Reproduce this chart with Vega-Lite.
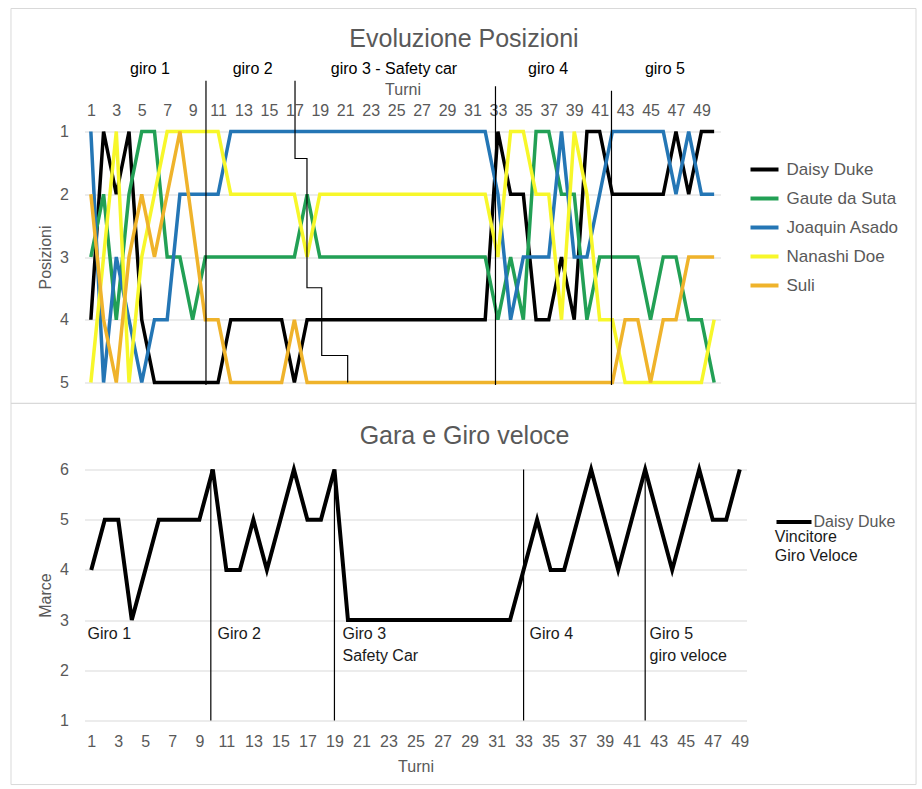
{
  "$schema": "https://vega.github.io/schema/vega-lite/v6.json",
  "autosize": {"type": "pad"},
  "padding": {"left": 9.5, "top": 7.5, "right": 5, "bottom": 4},
  "background": "white",
  "config": {
    "font": "Liberation Sans",
    "view": {"stroke": null},
    "axis": {"domain": false, "ticks": false, "gridColor": "#d9d9d9", "gridWidth": 1, "labelColor": "#595959", "titleColor": "#595959", "labelFontSize": 16, "titleFontSize": 16, "titleFontWeight": "normal", "labelFlush": false, "labelOverlap": false},
    "legend": {"labelFontSize": 17, "labelColor": "#595959", "padding": 0, "labelOffset": 6, "symbolStrokeWidth": 4, "title": null}
  },
  "datasets": {
    "pos": [
      {"x":1,"Daisy Duke":4,"Gaute da Suta":3,"Joaquin Asado":1,"Nanashi Doe":5,"Suli":2},
      {"x":2,"Daisy Duke":1,"Gaute da Suta":2,"Joaquin Asado":5,"Nanashi Doe":3,"Suli":4},
      {"x":3,"Daisy Duke":2,"Gaute da Suta":4,"Joaquin Asado":3,"Nanashi Doe":1,"Suli":5},
      {"x":4,"Daisy Duke":1,"Gaute da Suta":2,"Joaquin Asado":4,"Nanashi Doe":5,"Suli":3},
      {"x":5,"Daisy Duke":4,"Gaute da Suta":1,"Joaquin Asado":5,"Nanashi Doe":3,"Suli":2},
      {"x":6,"Daisy Duke":5,"Gaute da Suta":1,"Joaquin Asado":4,"Nanashi Doe":2,"Suli":3},
      {"x":7,"Daisy Duke":5,"Gaute da Suta":3,"Joaquin Asado":4,"Nanashi Doe":1,"Suli":2},
      {"x":8,"Daisy Duke":5,"Gaute da Suta":3,"Joaquin Asado":2,"Nanashi Doe":1,"Suli":1},
      {"x":9,"Daisy Duke":5,"Gaute da Suta":4,"Joaquin Asado":2,"Nanashi Doe":1,"Suli":2.5},
      {"x":10,"Daisy Duke":5,"Gaute da Suta":3,"Joaquin Asado":2,"Nanashi Doe":1,"Suli":4},
      {"x":11,"Daisy Duke":5,"Gaute da Suta":3,"Joaquin Asado":2,"Nanashi Doe":1,"Suli":4},
      {"x":12,"Daisy Duke":4,"Gaute da Suta":3,"Joaquin Asado":1,"Nanashi Doe":2,"Suli":5},
      {"x":13,"Daisy Duke":4,"Gaute da Suta":3,"Joaquin Asado":1,"Nanashi Doe":2,"Suli":5},
      {"x":14,"Daisy Duke":4,"Gaute da Suta":3,"Joaquin Asado":1,"Nanashi Doe":2,"Suli":5},
      {"x":15,"Daisy Duke":4,"Gaute da Suta":3,"Joaquin Asado":1,"Nanashi Doe":2,"Suli":5},
      {"x":16,"Daisy Duke":4,"Gaute da Suta":3,"Joaquin Asado":1,"Nanashi Doe":2,"Suli":5},
      {"x":17,"Daisy Duke":5,"Gaute da Suta":3,"Joaquin Asado":1,"Nanashi Doe":2,"Suli":4},
      {"x":18,"Daisy Duke":4,"Gaute da Suta":2,"Joaquin Asado":1,"Nanashi Doe":3,"Suli":5},
      {"x":19,"Daisy Duke":4,"Gaute da Suta":3,"Joaquin Asado":1,"Nanashi Doe":2,"Suli":5},
      {"x":20,"Daisy Duke":4,"Gaute da Suta":3,"Joaquin Asado":1,"Nanashi Doe":2,"Suli":5},
      {"x":21,"Daisy Duke":4,"Gaute da Suta":3,"Joaquin Asado":1,"Nanashi Doe":2,"Suli":5},
      {"x":22,"Daisy Duke":4,"Gaute da Suta":3,"Joaquin Asado":1,"Nanashi Doe":2,"Suli":5},
      {"x":23,"Daisy Duke":4,"Gaute da Suta":3,"Joaquin Asado":1,"Nanashi Doe":2,"Suli":5},
      {"x":24,"Daisy Duke":4,"Gaute da Suta":3,"Joaquin Asado":1,"Nanashi Doe":2,"Suli":5},
      {"x":25,"Daisy Duke":4,"Gaute da Suta":3,"Joaquin Asado":1,"Nanashi Doe":2,"Suli":5},
      {"x":26,"Daisy Duke":4,"Gaute da Suta":3,"Joaquin Asado":1,"Nanashi Doe":2,"Suli":5},
      {"x":27,"Daisy Duke":4,"Gaute da Suta":3,"Joaquin Asado":1,"Nanashi Doe":2,"Suli":5},
      {"x":28,"Daisy Duke":4,"Gaute da Suta":3,"Joaquin Asado":1,"Nanashi Doe":2,"Suli":5},
      {"x":29,"Daisy Duke":4,"Gaute da Suta":3,"Joaquin Asado":1,"Nanashi Doe":2,"Suli":5},
      {"x":30,"Daisy Duke":4,"Gaute da Suta":3,"Joaquin Asado":1,"Nanashi Doe":2,"Suli":5},
      {"x":31,"Daisy Duke":4,"Gaute da Suta":3,"Joaquin Asado":1,"Nanashi Doe":2,"Suli":5},
      {"x":32,"Daisy Duke":4,"Gaute da Suta":3,"Joaquin Asado":1,"Nanashi Doe":2,"Suli":5},
      {"x":33,"Daisy Duke":1,"Gaute da Suta":4,"Joaquin Asado":2,"Nanashi Doe":3,"Suli":5},
      {"x":34,"Daisy Duke":2,"Gaute da Suta":3,"Joaquin Asado":4,"Nanashi Doe":1,"Suli":5},
      {"x":35,"Daisy Duke":2,"Gaute da Suta":4,"Joaquin Asado":3,"Nanashi Doe":1,"Suli":5},
      {"x":36,"Daisy Duke":4,"Gaute da Suta":1,"Joaquin Asado":3,"Nanashi Doe":2,"Suli":5},
      {"x":37,"Daisy Duke":4,"Gaute da Suta":1,"Joaquin Asado":3,"Nanashi Doe":2,"Suli":5},
      {"x":38,"Daisy Duke":3,"Gaute da Suta":2,"Joaquin Asado":1,"Nanashi Doe":4,"Suli":5},
      {"x":39,"Daisy Duke":4,"Gaute da Suta":2,"Joaquin Asado":3,"Nanashi Doe":1,"Suli":5},
      {"x":40,"Daisy Duke":1,"Gaute da Suta":4,"Joaquin Asado":3,"Nanashi Doe":2,"Suli":5},
      {"x":41,"Daisy Duke":1,"Gaute da Suta":3,"Joaquin Asado":2,"Nanashi Doe":4,"Suli":5},
      {"x":42,"Daisy Duke":2,"Gaute da Suta":3,"Joaquin Asado":1,"Nanashi Doe":4,"Suli":5},
      {"x":43,"Daisy Duke":2,"Gaute da Suta":3,"Joaquin Asado":1,"Nanashi Doe":5,"Suli":4},
      {"x":44,"Daisy Duke":2,"Gaute da Suta":3,"Joaquin Asado":1,"Nanashi Doe":5,"Suli":4},
      {"x":45,"Daisy Duke":2,"Gaute da Suta":4,"Joaquin Asado":1,"Nanashi Doe":5,"Suli":5},
      {"x":46,"Daisy Duke":2,"Gaute da Suta":3,"Joaquin Asado":1,"Nanashi Doe":5,"Suli":4},
      {"x":47,"Daisy Duke":1,"Gaute da Suta":3,"Joaquin Asado":2,"Nanashi Doe":5,"Suli":4},
      {"x":48,"Daisy Duke":2,"Gaute da Suta":4,"Joaquin Asado":1,"Nanashi Doe":5,"Suli":3},
      {"x":49,"Daisy Duke":1,"Gaute da Suta":4,"Joaquin Asado":2,"Nanashi Doe":5,"Suli":3},
      {"x":50,"Daisy Duke":1,"Gaute da Suta":5,"Joaquin Asado":2,"Nanashi Doe":4,"Suli":3}
    ],
    "gears": [
      {"x":1,"y":4,"d":"Daisy Duke"},{"x":2,"y":5,"d":"Daisy Duke"},{"x":3,"y":5,"d":"Daisy Duke"},{"x":4,"y":3,"d":"Daisy Duke"},{"x":5,"y":4,"d":"Daisy Duke"},
      {"x":6,"y":5,"d":"Daisy Duke"},{"x":7,"y":5,"d":"Daisy Duke"},{"x":8,"y":5,"d":"Daisy Duke"},{"x":9,"y":5,"d":"Daisy Duke"},{"x":10,"y":6,"d":"Daisy Duke"},
      {"x":11,"y":4,"d":"Daisy Duke"},{"x":12,"y":4,"d":"Daisy Duke"},{"x":13,"y":5,"d":"Daisy Duke"},{"x":14,"y":4,"d":"Daisy Duke"},{"x":15,"y":5,"d":"Daisy Duke"},
      {"x":16,"y":6,"d":"Daisy Duke"},{"x":17,"y":5,"d":"Daisy Duke"},{"x":18,"y":5,"d":"Daisy Duke"},{"x":19,"y":6,"d":"Daisy Duke"},{"x":20,"y":3,"d":"Daisy Duke"},
      {"x":21,"y":3,"d":"Daisy Duke"},{"x":22,"y":3,"d":"Daisy Duke"},{"x":23,"y":3,"d":"Daisy Duke"},{"x":24,"y":3,"d":"Daisy Duke"},{"x":25,"y":3,"d":"Daisy Duke"},
      {"x":26,"y":3,"d":"Daisy Duke"},{"x":27,"y":3,"d":"Daisy Duke"},{"x":28,"y":3,"d":"Daisy Duke"},{"x":29,"y":3,"d":"Daisy Duke"},{"x":30,"y":3,"d":"Daisy Duke"},
      {"x":31,"y":3,"d":"Daisy Duke"},{"x":32,"y":3,"d":"Daisy Duke"},{"x":33,"y":4,"d":"Daisy Duke"},{"x":34,"y":5,"d":"Daisy Duke"},{"x":35,"y":4,"d":"Daisy Duke"},
      {"x":36,"y":4,"d":"Daisy Duke"},{"x":37,"y":5,"d":"Daisy Duke"},{"x":38,"y":6,"d":"Daisy Duke"},{"x":39,"y":5,"d":"Daisy Duke"},{"x":40,"y":4,"d":"Daisy Duke"},
      {"x":41,"y":5,"d":"Daisy Duke"},{"x":42,"y":6,"d":"Daisy Duke"},{"x":43,"y":5,"d":"Daisy Duke"},{"x":44,"y":4,"d":"Daisy Duke"},{"x":45,"y":5,"d":"Daisy Duke"},
      {"x":46,"y":6,"d":"Daisy Duke"},{"x":47,"y":5,"d":"Daisy Duke"},{"x":48,"y":5,"d":"Daisy Duke"},{"x":49,"y":6,"d":"Daisy Duke"}
    ]
  },
  "vconcat": [
    {
      "width": 636,
      "height": 251,
      "encoding": {
        "x": {"field": "x", "type": "quantitative", "scale": {"domain": [0.5, 50.5], "nice": false}, "axis": {"orient": "top", "values": [1,3,5,7,9,11,13,15,17,19,21,23,25,27,29,31,33,35,37,39,41,43,45,47,49], "grid": false, "title": "Turni", "labelPadding": 13, "titlePadding": 5}},
        "y": {"field": "y", "type": "quantitative", "scale": {"domain": [1, 5], "reverse": true, "nice": false, "zero": false}, "axis": {"values": [1,2,3,4,5], "title": "Posizioni", "labelPadding": 16, "titlePadding": 6}}
      },
      "layer": [
        {
          "data": {"values": [{"x": -5.28, "x2": 65.87, "y": -0.96, "y2": 5.335}]},
          "mark": {"type": "rect", "fillOpacity": 0, "stroke": "#d9d9d9", "strokeWidth": 1},
          "encoding": {"x2": {"field": "x2"}, "y2": {"field": "y2"}}
        },
        {
          "data": {"name": "pos"},
          "transform": [{"fold": ["Daisy Duke", "Gaute da Suta", "Joaquin Asado", "Nanashi Doe", "Suli"], "as": ["d", "y"]}],
          "mark": {"type": "line", "strokeWidth": 3.5},
          "encoding": {
            "color": {"field": "d", "type": "nominal", "scale": {"domain": ["Daisy Duke", "Gaute da Suta", "Joaquin Asado", "Nanashi Doe", "Suli"], "range": ["#000000", "#22a055", "#2476b5", "#f7f72a", "#efb32b"]},
              "legend": {"orient": "none", "legendX": 664, "legendY": 22, "symbolSize": 784, "rowPadding": 5}}
          }
        },
        {
          "data": {"values": [{"x": 10.05, "y": 0.19, "y2": 5.04}, {"x": 32.81, "y": 0.28, "y2": 5.04}, {"x": 41.93, "y": 0.35, "y2": 5.04}]},
          "mark": {"type": "rule", "color": "#000000", "strokeWidth": 1.2},
          "encoding": {"y2": {"field": "y2"}}
        },
        {
          "data": {"values": [{"o": 1, "x": 17.05, "y": 0.19}, {"o": 2, "x": 17.05, "y": 1.43}, {"o": 3, "x": 17.99, "y": 1.43}, {"o": 4, "x": 17.99, "y": 3.49}, {"o": 5, "x": 19.15, "y": 3.49}, {"o": 6, "x": 19.15, "y": 4.57}, {"o": 7, "x": 21.19, "y": 4.57}, {"o": 8, "x": 21.19, "y": 5.0}]},
          "mark": {"type": "line", "color": "#000000", "strokeWidth": 1.2},
          "encoding": {"order": {"field": "o", "type": "quantitative"}}
        },
        {
          "data": {"values": [{"x": 5.65, "y": 0, "t": "giro 1"}, {"x": 13.72, "y": 0, "t": "giro 2"}, {"x": 24.83, "y": 0, "t": "giro 3 - Safety car"}, {"x": 36.94, "y": 0, "t": "giro 4"}, {"x": 46.13, "y": 0, "t": "giro 5"}]},
          "mark": {"type": "text", "fontSize": 16, "color": "#000000", "align": "center", "baseline": "middle"},
          "encoding": {"text": {"field": "t"}}
        },
        {
          "data": {"values": [{"x": 30.33, "y": -0.48, "t": "Evoluzione Posizioni"}]},
          "mark": {"type": "text", "fontSize": 25, "color": "#595959", "align": "center", "baseline": "middle"},
          "encoding": {"text": {"field": "t"}}
        }
      ]
    },
    {
      "width": 662,
      "height": 251,
      "encoding": {
        "x": {"field": "x", "type": "quantitative", "scale": {"domain": [0.5, 49.5], "nice": false}, "axis": {"values": [1,3,5,7,9,11,13,15,17,19,21,23,25,27,29,31,33,35,37,39,41,43,45,47,49], "grid": false, "title": "Turni", "labelPadding": 13, "titlePadding": 9}},
        "y": {"field": "y", "type": "quantitative", "scale": {"domain": [1, 6], "nice": false, "zero": false}, "axis": {"values": [1,2,3,4,5,6], "title": "Marce", "labelPadding": 16, "titlePadding": 6}}
      },
      "layer": [
        {
          "data": {"values": [{"x": -4.94, "x2": 62.05, "y": 7.32, "y2": -0.276}]},
          "mark": {"type": "rect", "fillOpacity": 0, "stroke": "#d9d9d9", "strokeWidth": 1},
          "encoding": {"x2": {"field": "x2"}, "y2": {"field": "y2"}}
        },
        {
          "data": {"name": "gears"},
          "mark": {"type": "line", "strokeWidth": 4},
          "encoding": {
            "color": {"field": "d", "type": "nominal", "scale": {"domain": ["Daisy Duke"], "range": ["#000000"]},
              "legend": {"orient": "none", "legendX": 690, "legendY": 33, "symbolSize": 1225, "labelOffset": 0, "labelFontSize": 16}}
          }
        },
        {
          "data": {"values": [{"x": 9.85, "y": 1, "y2": 6}, {"x": 19.0, "y": 1, "y2": 6}, {"x": 33.0, "y": 1, "y2": 6}, {"x": 42.0, "y": 1, "y2": 6}]},
          "mark": {"type": "rule", "color": "#000000", "strokeWidth": 1.2},
          "encoding": {"y2": {"field": "y2"}}
        },
        {
          "data": {"values": [{"x": 0.72, "y": 2.72, "t": "Giro 1"}, {"x": 10.34, "y": 2.72, "t": "Giro 2"}, {"x": 19.6, "y": 2.72, "t": "Giro 3"}, {"x": 19.6, "y": 2.28, "t": "Safety Car"}, {"x": 33.44, "y": 2.72, "t": "Giro 4"}, {"x": 42.32, "y": 2.72, "t": "Giro 5"}, {"x": 42.32, "y": 2.28, "t": "giro veloce"}, {"x": 51.6, "y": 4.65, "t": "Vincitore"}, {"x": 51.6, "y": 4.27, "t": "Giro Veloce"}]},
          "mark": {"type": "text", "fontSize": 16, "color": "#1a1a1a", "align": "left", "baseline": "middle"},
          "encoding": {"text": {"field": "t"}}
        },
        {
          "data": {"values": [{"x": 28.63, "y": 6.66, "t": "Gara e Giro veloce"}]},
          "mark": {"type": "text", "fontSize": 25, "color": "#595959", "align": "center", "baseline": "middle"},
          "encoding": {"text": {"field": "t"}}
        }
      ]
    }
  ],
  "spacing": 87,
  "bounds": "flush",
  "resolve": {"scale": {"color": "independent", "x": "independent", "y": "independent"}, "legend": {"color": "independent"}}
}
